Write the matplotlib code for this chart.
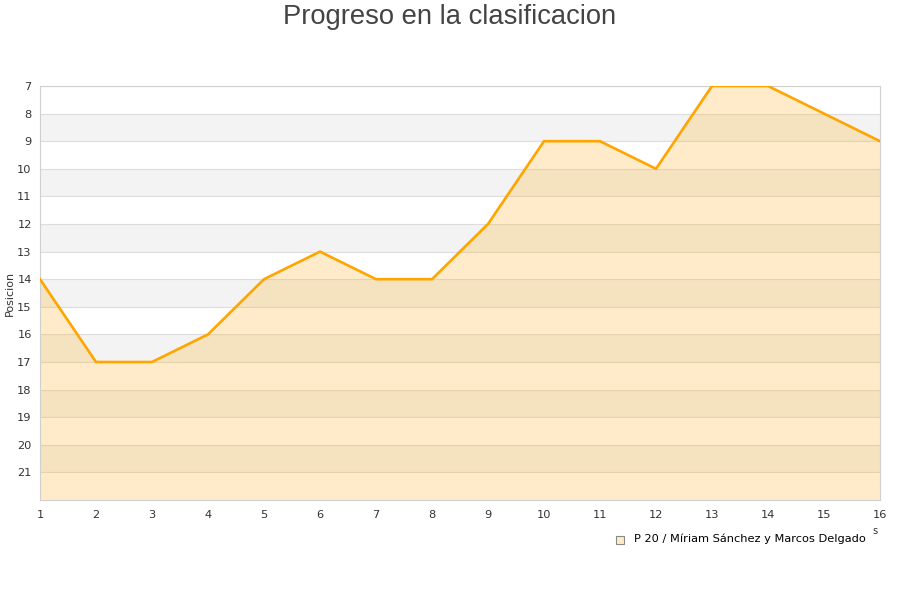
import matplotlib
matplotlib.use("Agg")
import matplotlib.pyplot as plt
import numpy as np

# Data: jornada vs posicion
jornadas = [1, 2, 3, 4, 5, 6, 7, 8, 9, 10, 11, 12, 13, 14, 15, 16]
posicion = [14, 17, 17, 16, 14, 13, 14, 14, 12, 9, 9, 10, 7, 7, 8, 9]
y_ticks = list(range(7, 22))
serie_label = "P 20 / Míriam Sánchez y Marcos Delgado"

line_color = "#FFA500"
grid_color = "#DDDDDD"

fig = plt.figure(figsize=(9, 6), dpi=100)
ax = fig.add_axes([40 / 900, 1 - 500 / 600, 840 / 900, 414 / 600])

ax.set_xlim(1, 16)
ax.set_ylim(22, 7)

# alternating bands
for y0 in range(8, 22, 2):
    ax.axhspan(y0, y0 + 1, color="#F3F3F3", zorder=0, lw=0)
for y in y_ticks:
    ax.axhline(y, color=grid_color, lw=0.8, zorder=1)

ax.fill_between(jornadas, posicion, 22, color=line_color, alpha=0.21, lw=0, zorder=2)
ax.plot(jornadas, posicion, color=line_color, lw=1.9, zorder=3)

ax.set_xticks(jornadas)
ax.set_yticks(y_ticks)
ax.tick_params(length=0, labelsize=8.2, colors="#333333", pad=6)
ax.tick_params(axis="x", pad=7)
for s in ax.spines.values():
    s.set_color("#D0D0D0")
    s.set_linewidth(0.8)

ax.set_ylabel("Posicion", fontsize=8, color="#333333")
ax.yaxis.set_label_coords(-0.03, 0.5)

fig.text(0.5, 0.993, "Progreso en la clasificacion", ha="center", va="top",
         fontsize=19.7, color="#444444", family="Liberation Sans")

# legend
fig.patches.append(plt.Rectangle((616 / 900, 1 - 544 / 600), 8 / 900, 8 / 600,
                                 transform=fig.transFigure, facecolor="#FFEBC8",
                                 edgecolor="#888888", lw=0.8))
fig.text(634 / 900, 1 - 539 / 600, serie_label, ha="left", va="center",
         fontsize=8.2, color="#000000")
fig.text(875 / 900, 1 - 531 / 600, "s", ha="center", va="center",
         fontsize=7, color="#333333")

fig.savefig("out.png", dpi=100)
